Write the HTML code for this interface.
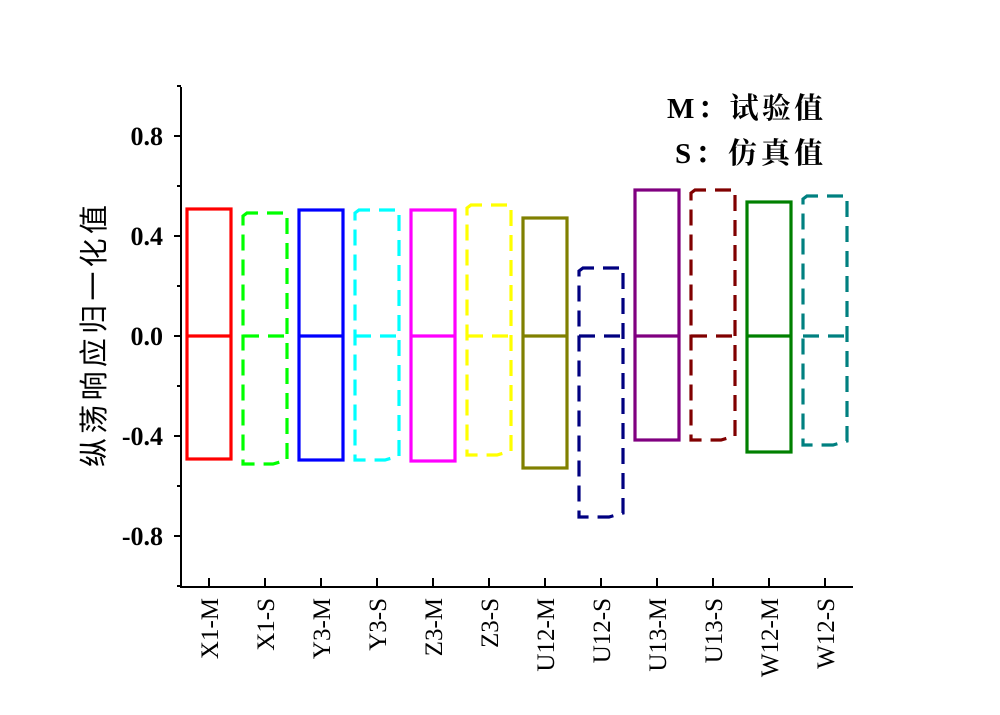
<!DOCTYPE html>
<html><head><meta charset="utf-8"><style>
body{margin:0;background:#fff;}
svg text{font-family:"Liberation Serif","Noto Serif CJK SC",serif;fill:#000;}
</style></head><body>
<svg id="chart" width="1000" height="710" viewBox="0 0 1000 710" xmlns="http://www.w3.org/2000/svg">
<g id="axes"></g><g id="marks"></g>
<text transform="translate(104,336) rotate(-90)" text-anchor="middle" font-size="29" textLength="262" style="font-family:'Noto Sans CJK SC',sans-serif">纵荡响应归一化值</text>
<text x="823" y="118" text-anchor="end" font-size="29" font-weight="bold" textLength="156">M：试验值</text>
<text x="823" y="163" text-anchor="end" font-size="29" font-weight="bold" textLength="148">S：仿真值</text>
</svg>
<script>
const categories=["X1-M","X1-S","Y3-M","Y3-S","Z3-M","Z3-S","U12-M","U12-S","U13-M","U13-S","W12-M","W12-S"];
const maxVals=[0.508,0.492,0.504,0.504,0.504,0.524,0.472,0.272,0.584,0.584,0.536,0.56];
const minVals=[-0.492,-0.512,-0.496,-0.496,-0.5,-0.476,-0.528,-0.724,-0.416,-0.416,-0.464,-0.436];
const colors=["#ff0000","#00ff00","#0000ff","#00ffff","#ff00ff","#ffff00","#808000","#000080","#800080","#800000","#008000","#008080"];
const yTicks=[-0.8,-0.4,0.0,0.4,0.8];
const yTickLabels=["-0.8","-0.4","0.0","0.4","0.8"];
const NS="http://www.w3.org/2000/svg";
const x0=181,x1=853,yTop=87,yBot=587;
const y=v=>336-v*250;
const x=i=>x0+28+i*56;
const axes=document.getElementById('axes'),marks=document.getElementById('marks');
function mk(tag,attrs,parent){const e=document.createElementNS(NS,tag);for(const k in attrs)e.setAttribute(k,attrs[k]);parent.appendChild(e);return e;}
let e=mk('line',{x1:x0,y1:yTop,x2:x0,y2:yBot,stroke:'#000','stroke-width':2},axes);


e=mk('line',{x1:x0-1,y1:yBot,x2:x1,y2:yBot,stroke:'#000','stroke-width':2},axes);


for(let v=-1;v<=1.001;v+=0.2){const major=Math.abs(Math.round(v*10))%4==0&&Math.abs(v)<0.9;
 e=mk('line',{x1:x0-(major?7:4),y1:y(v),x2:x0,y2:y(v),stroke:'#000','stroke-width':2},axes);
 
 }
yTicks.forEach((v,i)=>{e=mk('text',{x:x0-18,y:y(v)+9,'text-anchor':'end','font-size':26,'font-weight':'bold'},axes);e.textContent=yTickLabels[i];
 
 });
categories.forEach((c,i)=>{
 e=mk('line',{x1:x(i),y1:yBot,x2:x(i),y2:yBot-9,stroke:'#000','stroke-width':2},axes);
 
 
 e=mk('text',{transform:`translate(${x(i)+9},598) rotate(-90)`,'text-anchor':'end','font-size':25},axes);e.textContent=c;
 
 
 const l=x(i)-22,r=x(i)+22,t=y(maxVals[i]),b=y(minVals[i]);
 const sim=c.endsWith('-S');
 const g=mk('g',{fill:'none',stroke:colors[i],'stroke-width':3.2},marks);
 
 
 if(sim){g.setAttribute('stroke-dasharray','16,9');
  mk('path',{d:`M${l},${t+3} L${l+4},${t} L${r},${t} L${r},${b-4} L${r-14},${b} L${l},${b} Z`},g);}
 else mk('rect',{x:l,y:t,width:r-l,height:b-t},g);
 mk('line',{x1:l,y1:y(0),x2:r,y2:y(0)},g);
});
</script>
</body></html>
